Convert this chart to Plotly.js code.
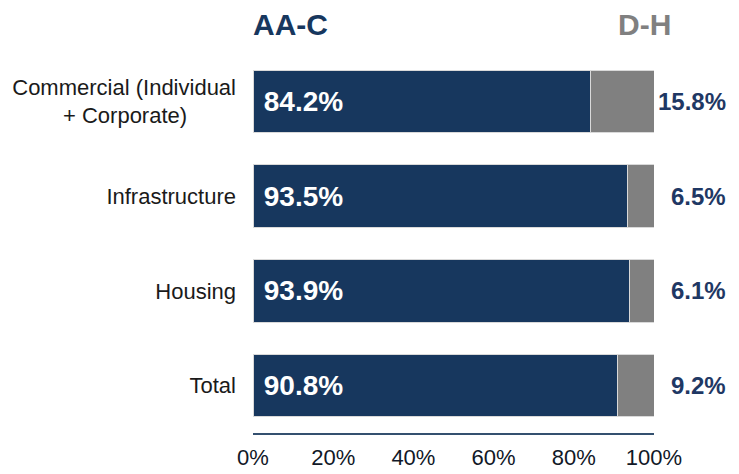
<!DOCTYPE html>
<html>
<head>
<meta charset="utf-8">
<script src="https://cdn.plot.ly/plotly-3.0.1.min.js"></script>
<style>html,body{margin:0;padding:0;background:#fff;}#chart{width:739px;height:474px;}</style>
</head>
<body>
<div id="chart"></div>
<script>
const categories = ['Commercial (Individual<br>+ Corporate)\u00a0\u00a0\u00a0\u00a0\u00a0\u00a0\u00a0\u00a0', 'Infrastructure', 'Housing', 'Total'];
const aacValues = [84.2, 93.5, 93.9, 90.8];
const dhValues = [15.8, 6.5, 6.1, 9.2];
const seriesNames = ['AA-C', 'D-H'];
const xTickVals = [0, 20, 40, 60, 80, 100];
const xTickText = ['0%', '20%', '40%', '60%', '80%', '100%'];

const NAVY = '#17375e';
const GRAY = '#808080';
const FONT = '"Liberation Sans", Arial, sans-serif';

const traces = [
  {
    type: 'bar', orientation: 'h', name: seriesNames[0],
    y: categories, x: aacValues,
    text: aacValues.map(v => v.toFixed(1) + '%'),
    texttemplate: '\u00a0%{text}',
    textposition: 'inside', insidetextanchor: 'start',
    textfont: {family: FONT, size: 28, color: '#ffffff', weight: 'bold'},
    marker: {color: NAVY, line: {color: '#d9d9d9', width: 1}},
    width: 0.66, hoverinfo: 'skip'
  },
  {
    type: 'bar', orientation: 'h', name: seriesNames[1],
    y: categories, x: dhValues,
    textposition: 'none',
    marker: {color: GRAY, line: {color: '#d9d9d9', width: 1}},
    width: 0.66, hoverinfo: 'skip'
  }
];

const annotations = [
  {xref: 'paper', yref: 'paper', x: 0.094, y: 1.077, xanchor: 'center', yanchor: 'middle',
   text: '<b>' + seriesNames[0] + '</b>', showarrow: false, font: {family: FONT, size: 30, color: NAVY}},
  {xref: 'paper', yref: 'paper', x: 0.977, y: 1.077, xanchor: 'center', yanchor: 'middle',
   text: '<b>' + seriesNames[1] + '</b>', showarrow: false, font: {family: FONT, size: 30, color: GRAY}}
];
dhValues.forEach((v, i) => {
  annotations.push({
    xref: 'paper', yref: 'y', x: 1.184, y: categories[i], xanchor: 'right', yanchor: 'middle',
    text: '<b>' + v.toFixed(1) + '%</b>', showarrow: false,
    font: {family: FONT, size: 24, color: '#1f3864'}
  });
});

const layout = {
  width: 739, height: 474,
  margin: {l: 253, r: 85, t: 54, b: 41, pad: 0},
  barmode: 'stack', bargap: 0.34,
  showlegend: false,
  paper_bgcolor: '#ffffff', plot_bgcolor: '#ffffff',
  font: {family: FONT, color: '#1a1a1a'},
  xaxis: {
    range: [0, 100], tickvals: xTickVals, ticktext: xTickText,
    showgrid: false, zeroline: false,
    showline: true, linecolor: '#34506f', linewidth: 2,
    ticks: '', ticklabelstandoff: 4,
    tickfont: {family: FONT, size: 22, color: '#111827'},
    fixedrange: true
  },
  yaxis: {
    autorange: 'reversed', type: 'category',
    showgrid: false, zeroline: false, showline: false,
    ticks: '', ticklabelstandoff: 16,
    tickfont: {family: FONT, size: 22, color: '#1a1a1a'},
    fixedrange: true
  },
  annotations: annotations
};

Plotly.newPlot('chart', traces, layout, {displayModeBar: false, staticPlot: true});
</script>
</body>
</html>
